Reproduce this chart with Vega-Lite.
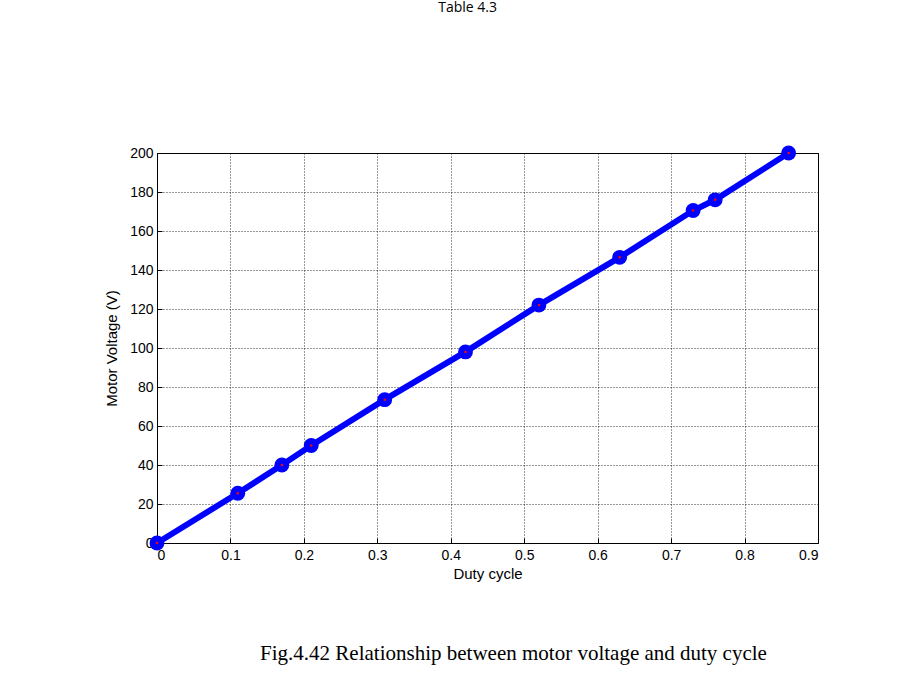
{
"$schema":"https://vega.github.io/schema/vega-lite/v6.json",
"background":"white",
"padding":{"left":104,"top":0,"right":10,"bottom":5},
"title":{"text":"Table 4.3","font":"Open Sans","fontSize":14,"fontWeight":"normal","color":"black","offset":126,"anchor":"middle","dx":6},
"vconcat":[{
"width":661,"height":390,
"title":{"text":"Fig.4.42 Relationship between motor voltage and duty cycle","orient":"bottom","font":"Liberation Serif","fontSize":21,"fontWeight":"normal","color":"black","offset":62,"anchor":"middle","dx":26},
"data":{"values":[
{"d":0,"v":0},{"d":0.11,"v":25.5},{"d":0.17,"v":40},{"d":0.21,"v":50},{"d":0.31,"v":73.5},{"d":0.42,"v":98},{"d":0.52,"v":122},{"d":0.63,"v":146.5},{"d":0.73,"v":170.5},{"d":0.76,"v":176},{"d":0.86,"v":200}]},
"encoding":{
"x":{"field":"d","type":"quantitative","scale":{"domain":[0,0.9],"nice":false},"axis":{"title":"Duty cycle","values":[0,0.1,0.2,0.3,0.4,0.5,0.6,0.7,0.8,0.9],"format":"~g","labelFont":"Liberation Sans","labelFontSize":14,"titleFont":"Liberation Sans","titleFontSize":15,"titleFontWeight":"normal","labelColor":"black","titleColor":"black","gridColor":"black","gridDash":[1,2],"gridOpacity":0.8,"domain":false,"tickColor":"black","tickSize":-5,"labelPadding":10,"titlePadding":4}},
"y":{"field":"v","type":"quantitative","scale":{"domain":[0,200],"nice":false},"axis":{"title":"Motor Voltage (V)","values":[0,20,40,60,80,100,120,140,160,180,200],"labelFont":"Liberation Sans","labelFontSize":14,"titleFont":"Liberation Sans","titleFontSize":15,"titleFontWeight":"normal","labelColor":"black","titleColor":"black","gridColor":"black","gridDash":[1,2],"gridOpacity":0.8,"domain":false,"tickColor":"black","tickSize":-5,"labelPadding":9,"titlePadding":10}}
},
"layer":[
{"mark":{"type":"line","color":"#0000ff","strokeWidth":6,"clip":false}},
{"mark":{"type":"point","filled":true,"color":"#0000ff","size":220,"opacity":1,"clip":false}},
{"mark":{"type":"point","filled":true,"color":"#ff0000","size":6,"opacity":1,"clip":false}}
]
}],
"config":{"view":{"stroke":"black","strokeWidth":1}}
}
